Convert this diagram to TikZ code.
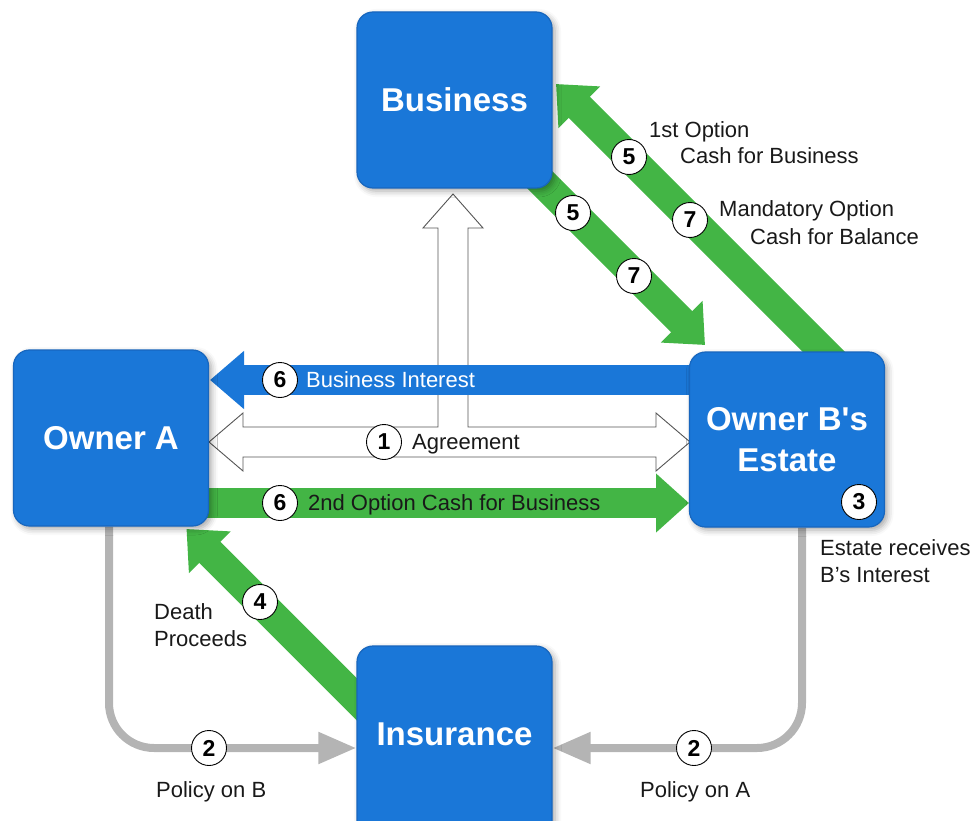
\documentclass[tikz,border=0pt]{standalone}
\usepackage{fontspec}
\setmainfont{Liberation Sans}[Ligatures=TeXOff]
\usetikzlibrary{arrows.meta,shadows.blur}
\definecolor{boxblue}{HTML}{1A77D8}
\definecolor{boxrim}{HTML}{1766BE}
\definecolor{flowgreen}{HTML}{43B545}
\definecolor{policygray}{HTML}{B4B4B4}
\definecolor{outline}{HTML}{555555}
\pgfdeclarelayer{background}
\pgfsetlayers{background,main}

\begin{document}
\begin{tikzpicture}[x=1pt,y=-1pt,
  party/.style={draw=boxrim, line width=1.2pt, fill=boxblue, rounded corners=16pt,
    text=white, font=\fontsize{33}{41}\selectfont\bfseries, align=center, inner sep=0pt,
    minimum width=195pt, minimum height=176pt,
    blur shadow={shadow xshift=3pt, shadow yshift=-3pt, shadow blur radius=6pt, shadow opacity=35}},
  num/.style={circle, draw=black, line width=0.9pt, fill=white, minimum size=35pt,
    inner sep=0pt, font=\fontsize{23}{23}\selectfont\bfseries},
  lbl/.style={anchor=base west, inner sep=0pt, font=\fontsize{22}{26}\selectfont, text=black!90},
  fatgreen/.style={draw=flowgreen, line width=30pt, -{Triangle[length=33pt,width=57pt]}},
  fatblue/.style={draw=boxblue, line width=30pt, -{Triangle[length=34pt,width=56pt]}},
  policy/.style={draw=policygray, line width=8pt, rounded corners=45pt,
    -{Triangle[length=38pt,width=30pt]}},
  agree/.style={draw=outline, line width=0.9pt, fill=white, line join=miter}
]
\useasboundingbox (0,0) rectangle (974,821);
\clip (0,0) rectangle (974,821);

% parties
\node[party] (business) at (454.5,100) {Business};
\node[party] (ownerA) at (111,438) {Owner A};
\node[party, minimum height=175pt] (ownerB) at (787,439.5) {Owner B's\\Estate};
\node[party, minimum height=194pt] (insurance) at (454.5,743) {\raisebox{18pt}{Insurance}};

% step markers
\node[num] (n5a) at (629,157) {5};
\node[num] (n7a) at (690,220) {7};
\node[num] (n5b) at (573,213) {5};
\node[num] (n7b) at (634,276) {7};
\node[num] (n6a) at (280,380) {6};
\node[num] (n1)  at (384,442) {1};
\node[num] (n6b) at (280,503) {6};
\node[num] (n3)  at (859,502) {3};
\node[num] (n4)  at (260,602) {4};
\node[num] (n2l) at (209,748) {2};
\node[num] (n2r) at (694,748) {2};

% arrow end points
\coordinate (bzOut)   at (520,160);
\coordinate (obIn)    at (705,345);
\coordinate (obOut)   at (860,388);
\coordinate (bzIn)    at (556,84);
\coordinate (insOut)  at (390,732.5);
\coordinate (oaIn)    at (186.5,529);
\coordinate (biFrom)  at (720,380);
\coordinate (biTo)    at (210,380);
\coordinate (cashFrom) at (190,503);
\coordinate (cashTo)  at (689,503);

\begin{pgfonlayer}{background}
  % insurance policies
  \draw[policy] ([xshift=-2pt]ownerA.south) |- (insurance.west |- n2l);
  \draw[policy] ([xshift=15pt]ownerB.south) |- (insurance.east |- n2r);
  % cash flows
  \draw[fatgreen] (bzOut) -- (obIn);
  \draw[fatgreen] (obOut) -- (bzIn);
  \draw[fatgreen] (insOut) -- (oaIn);
  % agreement between the owners and the business
  \draw[agree] (209,442) -- (243,413) -- (243,427) -- (438,427) -- (438,228)
    -- (423,228) -- (453,194) -- (483,228) -- (468,228) -- (468,427)
    -- (656,427) -- (656,413) -- (690,442) -- (656,471) -- (656,457)
    -- (243,457) -- (243,471) -- cycle;
  % business interest and second option
  \draw[fatblue] (biFrom) -- (biTo);
  \draw[fatgreen] (cashFrom) -- (cashTo);
\end{pgfonlayer}

% labels
\node[lbl] at (649,138) {1st Option};
\node[lbl] at (680,164) {Cash for Business};
\node[lbl] at (719,217) {Mandatory Option};
\node[lbl] at (750,244) {Cash for Balance};
\node[lbl, text=white] at (306,387) {Business Interest};
\node[lbl] at (412,449) {Agreement};
\node[lbl] at (308,510) {2nd Option Cash for Business};
\node[lbl] at (820,555) {Estate receives};
\node[lbl] at (820,582) {B’s Interest};
\node[lbl] at (154,619) {Death};
\node[lbl] at (154,646) {Proceeds};
\node[lbl] at (156,797) {Policy on B};
\node[lbl] at (640,797) {Policy on A};
\end{tikzpicture}
\end{document}
